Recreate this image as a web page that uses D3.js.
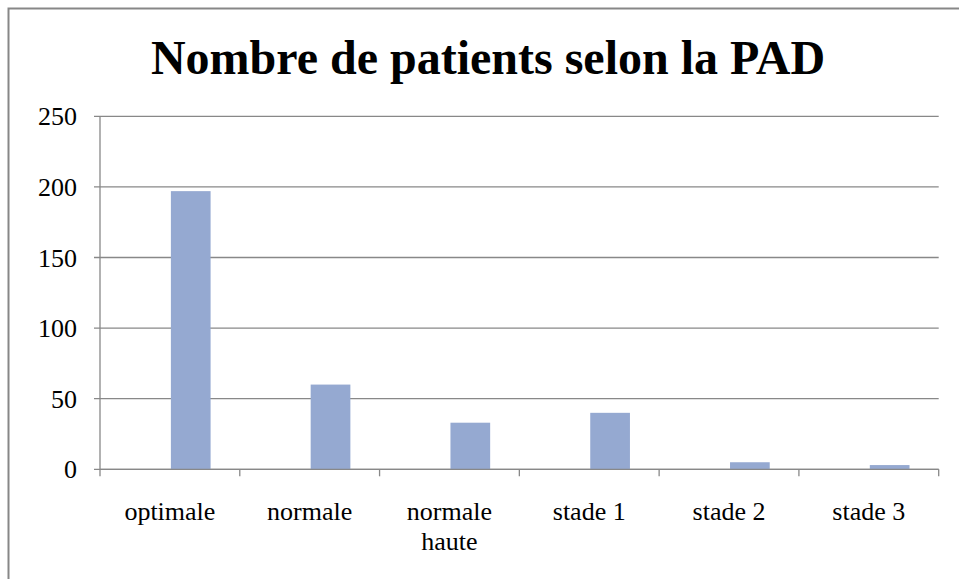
<!DOCTYPE html>
<html>
<head>
<meta charset="utf-8">
<script src="https://cdn.jsdelivr.net/npm/d3@7"></script>
<style>
  body { margin: 0; background: #fff; }
  svg { display: block; }
  text { font-family: "Liberation Serif", "Times New Roman", serif; }
</style>
</head>
<body>
<svg></svg>
<script>
var width = 959;
var height = 579;

var categories = ["optimale", "normale", "normale haute", "stade 1", "stade 2", "stade 3"];
var patients = [197, 60, 33, 40, 5, 3];
var yTicks = [0, 50, 100, 150, 200, 250];

var svg = d3.select("svg")
    .attr("width", width)
    .attr("height", height);

// frame of the chart area
svg.append("path")
    .attr("d", "M8.5," + height + "V8.5H" + width)
    .attr("fill", "none")
    .attr("stroke", "#878787")
    .attr("stroke-width", 2);

svg.append("text")
    .attr("x", 488)
    .attr("y", 74)
    .attr("text-anchor", "middle")
    .attr("font-family", "Liberation Serif")
    .style("font-weight", "bold")
    .style("font-size", "48px")
    .text("Nombre de patients selon la PAD");

var plotLeft = 100, plotRight = 938.7, plotTop = 116.3, plotBottom = 469.3;

var x = d3.scaleBand().domain(categories).range([plotLeft, plotRight]);
var y = d3.scaleLinear().domain([0, 250]).range([plotBottom, plotTop]);

var grid = svg.append("g");
grid.selectAll("line")
    .data(yTicks)
    .enter().append("line")
    .attr("x1", plotLeft - 6)
    .attr("x2", plotRight)
    .attr("y1", function(d) { return y(d); })
    .attr("y2", function(d) { return y(d); })
    .attr("stroke", "#888")
    .attr("stroke-width", 1.3);

grid.selectAll("text")
    .data(yTicks)
    .enter().append("text")
    .attr("x", 77)
    .attr("y", function(d) { return y(d) + 9; })
    .attr("text-anchor", "end")
    .attr("font-family", "Liberation Serif")
    .style("font-size", "26px")
    .text(function(d) { return d; });

// bars start at the category centre (first, empty series sits left of it)
svg.selectAll("rect.bar")
    .data(patients)
    .enter().append("rect")
    .attr("class", "bar")
    .attr("x", function(d, i) { return x(categories[i]) + x.bandwidth() / 2 + 1; })
    .attr("width", 39.7)
    .attr("y", function(d) { return y(d); })
    .attr("height", function(d) { return plotBottom - y(d); })
    .attr("fill", "#95a9d1");

// y axis line and x axis
svg.append("line")
    .attr("x1", plotLeft).attr("x2", plotLeft)
    .attr("y1", plotTop).attr("y2", plotBottom)
    .attr("stroke", "#888").attr("stroke-width", 1.3);

var xAxis = svg.append("g").attr("transform", "translate(0," + plotBottom + ")");
var tickX = categories.map(function(c) { return x(c); }).concat([plotRight]);
xAxis.selectAll("line")
    .data(tickX)
    .enter().append("line")
    .attr("x1", function(d) { return d; })
    .attr("x2", function(d) { return d; })
    .attr("y1", 0).attr("y2", 7)
    .attr("stroke", "#888").attr("stroke-width", 1.3);

xAxis.append("line")
    .attr("x1", plotLeft).attr("x2", plotRight)
    .attr("stroke", "#888").attr("stroke-width", 1.3);

var labels = xAxis.selectAll("text")
    .data(categories)
    .enter().append("text")
    .attr("x", function(d) { return x(d) + x.bandwidth() / 2; })
    .attr("y", 51)
    .attr("text-anchor", "middle")
    .attr("font-family", "Liberation Serif")
    .style("font-size", "26px");

labels.each(function(d) {
    var t = d3.select(this);
    var lines = d === "normale haute" ? ["normale", "haute"] : [d];
    lines.forEach(function(s, i) {
        t.append("tspan")
            .attr("x", x(d) + x.bandwidth() / 2)
            .attr("dy", i === 0 ? 0 : 30)
            .text(s);
    });
});
</script>
</body>
</html>
